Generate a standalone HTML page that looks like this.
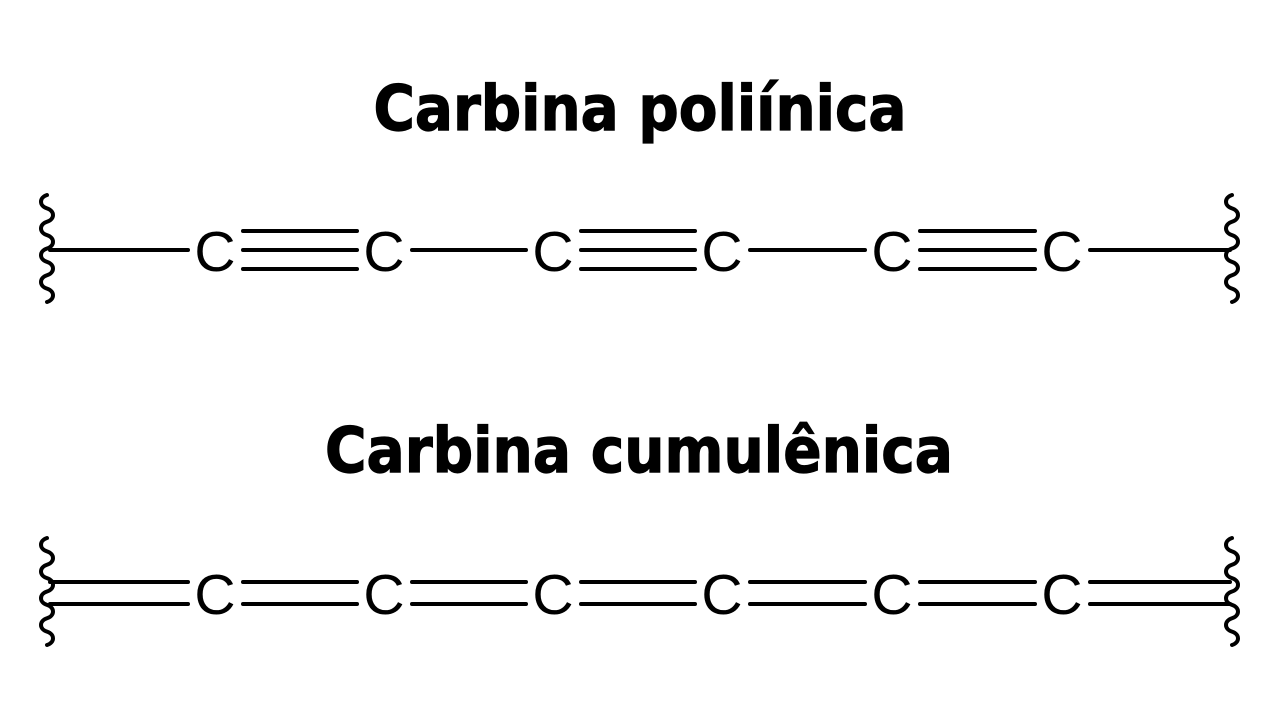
<!DOCTYPE html>
<html><head><meta charset="utf-8"><style>
html,body{margin:0;padding:0;background:#fff;}
svg{display:block}
</style></head><body>
<svg id="s" width="1280" height="720" viewBox="0 0 1280 720">
<text x="640" y="130" text-anchor="middle" font-family="'DejaVu Sans',sans-serif" font-weight="bold" font-size="62" stroke="#000" stroke-width="1.2" textLength="533" lengthAdjust="spacingAndGlyphs">Carbina poliínica</text>
<text x="639" y="472" text-anchor="middle" font-family="'DejaVu Sans',sans-serif" font-weight="bold" font-size="62" stroke="#000" stroke-width="1.2" textLength="628" lengthAdjust="spacingAndGlyphs">Carbina cumulênica</text>
</svg>
<script>
const carbonX = [215, 384, 553, 722, 892, 1062];
const polyBonds = [1, 3, 1, 3, 1, 3, 1];
const cumuBonds = [2, 2, 2, 2, 2, 2, 2];
const NS = 'http://www.w3.org/2000/svg';
const svg = document.getElementById('s');
const leftEnd = 50, rightEnd = 1230;
function line(x1, y, x2, name) {
  const l = document.createElementNS(NS, 'line');
  l.setAttribute('x1', x1); l.setAttribute('x2', x2);
  l.setAttribute('y1', y); l.setAttribute('y2', y);
  l.setAttribute('stroke', '#000'); l.setAttribute('stroke-width', '4');
  l.setAttribute('stroke-linecap', 'round');
  
  
  svg.appendChild(l);
}
function wavy(x, y0, y1, name) {
  const p = document.createElementNS(NS, 'path');
  let d = 'M' + x + ' ' + y0;
  const n = 8, h = (y1 - y0) / n;
  for (let i = 0; i < n; i++) {
    const ya = y0 + i * h;
    const s = (i % 2 === 0) ? -8 : 8;
    d += ' C' + (x + s) + ' ' + (ya + h * 0.2) + ' ' + (x + s) + ' ' + (ya + h * 0.8) + ' ' + x + ' ' + (ya + h);
  }
  p.setAttribute('d', d);
  p.setAttribute('fill', 'none'); p.setAttribute('stroke', '#000');
  p.setAttribute('stroke-width', '4'); p.setAttribute('stroke-linecap', 'round');
  
  
  svg.appendChild(p);
}
function chain(cy, bonds, prefix) {
  wavy(47, cy - 55, cy + 52, prefix + '-left-wavy-end');
  wavy(1232, cy - 55, cy + 52, prefix + '-right-wavy-end');
  for (let i = 0; i < bonds.length; i++) {
    const xa = i === 0 ? leftEnd : carbonX[i - 1] + 28;
    const xb = i === bonds.length - 1 ? rightEnd : carbonX[i] - 27;
    const k = bonds[i];
    const gap = k === 3 ? 19 : 22;
    for (let j = 0; j < k; j++) {
      const y = cy + (j - (k - 1) / 2) * gap;
      line(xa, y, xb, prefix + '-bond-' + i);
    }
  }
  carbonX.forEach((x, i) => {
    const t = document.createElementNS(NS, 'text');
    t.setAttribute('x', x); t.setAttribute('y', cy + 21);
    t.setAttribute('text-anchor', 'middle');
    t.setAttribute('font-family', 'Liberation Sans, sans-serif');
    t.setAttribute('font-size', '57');
    t.textContent = 'C';
    
    
    svg.appendChild(t);
  });
}
chain(250, polyBonds, 'polyyne');
chain(593, cumuBonds, 'cumulene');
</script>
</body></html>
